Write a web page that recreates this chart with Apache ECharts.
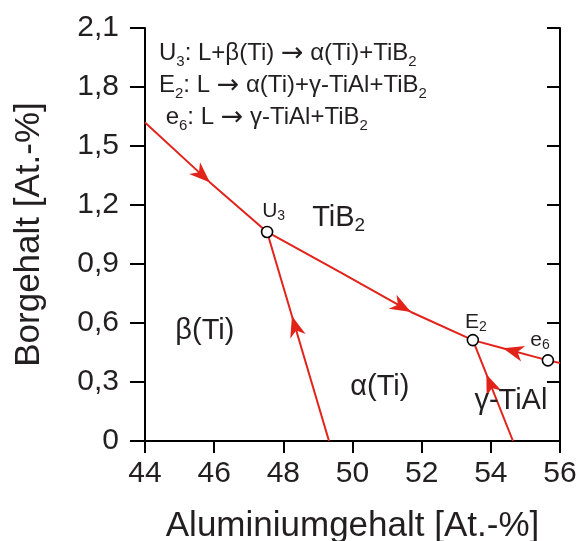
<!DOCTYPE html>
<html>
<head>
<meta charset="utf-8">
<script src="https://cdn.jsdelivr.net/npm/echarts@6/dist/echarts.min.js"></script>
<style>
  html, body { margin: 0; padding: 0; background: #fff; }
  #phase { width: 580px; height: 541px; }
</style>
</head>
<body>
<div id="phase"></div>
<script>
const red = '#e2231a'
const ink = '#231f20'

// Al-Gehalt / B-Gehalt entlang der Rinne e6 - E2 - U3
const liqX = [44, 45.88, 47.53, 49.64, 51.69, 53.48, 54.35, 55.65, 56]
const liqY = [1.62, 1.315, 1.063, 0.859, 0.656, 0.513, 0.472, 0.41, 0.397]
// Rinnen von unten nach U3 und E2
const u3LineX = [49.32, 47.53]
const u3LineY = [0, 1.063]
const e2LineX = [54.64, 53.48]
const e2LineY = [0, 0.513]

// invariante Punkte
const pointNames = ['U3', 'E2', 'e6']
const pointX = [47.53, 53.48, 55.65]
const pointY = [1.063, 0.513, 0.41]

// Pfeile: Spitze und ein Punkt dahinter
const arrowTipX = [45.88, 51.69, 54.35, 48.25, 53.87]
const arrowTipY = [1.315, 0.656, 0.472, 0.635, 0.34]
const arrowTailX = [44, 49.64, 55.65, 49.32, 54.64]
const arrowTailY = [1.62, 0.859, 0.41, 0, 0]

// Beschriftungen
const labelTexts = ['{t|TiB}{s|2}', '{t|β(Ti)}', '{t|α(Ti)}', '{t|γ-TiAl}', '{p|U}{ps|3}', '{p|E}{ps|2}', '{p|e}{ps|6}']
const labelX = [49.6, 45.73, 50.79, 54.58, 47.72, 53.57, 55.42]
const labelY = [1.134, 0.559, 0.275, 0.203, 1.17, 0.605, 0.513]

const yTickLabels = ['0', '0,3', '0,6', '0,9', '1,2', '1,5', '1,8', '2,1']
const legendLines = [
  '{a|U}{b|3}{a|: L+β(Ti) }{r|→}{a| α(Ti)+TiB}{b|2}',
  '{a|E}{b|2}{a|: L }{r|→}{a| α(Ti)+γ-TiAl+TiB}{b|2}',
  '{a| e}{b|6}{a|: L }{r|→}{a| γ-TiAl+TiB}{b|2}'
]

const zip = (xs, ys) => xs.map((x, i) => [x, ys[i]])

const axisBase = {
  type: 'value',
  axisLine: { show: true, lineStyle: { color: '#000', width: 2 } },
  axisTick: { show: true, lineStyle: { color: '#000', width: 2 } },
  splitLine: { show: false }
}

const options = {
  textStyle: { fontFamily: 'Liberation Sans, Arial, sans-serif' },
  animation: false,
  grid: { left: 145, right: 20, top: 28, bottom: 100, outerBoundsMode: 'none' },
  xAxis: [
    {
      ...axisBase,
      min: 44,
      max: 56,
      interval: 2,
      position: 'bottom',
      axisTick: { ...axisBase.axisTick, length: 12 },
      axisLabel: { color: ink, fontSize: 30, margin: 18 },
      name: 'Aluminiumgehalt [At.-%]',
      nameLocation: 'middle',
      nameGap: 68,
      nameTextStyle: { color: ink, fontSize: 35 }
    },
    {
      ...axisBase,
      min: 44,
      max: 56,
      interval: 2,
      position: 'top',
      axisTick: { ...axisBase.axisTick, inside: true, length: 12 },
      axisLabel: { show: false }
    }
  ],
  yAxis: [
    {
      ...axisBase,
      min: 0,
      max: 2.1,
      interval: 0.3,
      position: 'left',
      axisTick: { ...axisBase.axisTick, length: 15 },
      axisLabel: {
        color: ink,
        fontSize: 30,
        margin: 26,
        formatter: (v) => yTickLabels[Math.round(v / 0.3)]
      },
      name: 'Borgehalt [At.-%]',
      nameLocation: 'middle',
      nameGap: 98,
      nameTextStyle: { color: ink, fontSize: 35 }
    },
    {
      ...axisBase,
      min: 0,
      max: 2.1,
      interval: 0.3,
      position: 'right',
      axisTick: { ...axisBase.axisTick, inside: true, length: 13 },
      axisLabel: { show: false }
    }
  ],
  graphic: [
    {
      type: 'text',
      left: 159,
      top: 40,
      style: {
        text: legendLines.join('\n'),
        rich: {
          a: { fontSize: 24, lineHeight: 32, fill: ink, fontFamily: 'Liberation Sans' },
          r: { fontSize: 27, lineHeight: 32, fill: ink, fontFamily: 'DejaVu Sans' },
          b: { fontSize: 15, lineHeight: 26, fill: ink, verticalAlign: 'bottom', fontFamily: 'Liberation Sans' }
        }
      }
    }
  ],
  series: [
    {
      type: 'line',
      data: zip(liqX, liqY),
      symbol: 'none',
      lineStyle: { color: red, width: 2 },
      z: 2
    },
    {
      type: 'line',
      data: zip(u3LineX, u3LineY),
      symbol: 'none',
      lineStyle: { color: red, width: 2 },
      z: 2
    },
    {
      type: 'line',
      data: zip(e2LineX, e2LineY),
      symbol: 'none',
      lineStyle: { color: red, width: 2 },
      z: 2
    },
    {
      // Pfeilspitzen
      type: 'custom',
      data: arrowTipX.map((x, i) => [x, arrowTipY[i], arrowTailX[i], arrowTailY[i]]),
      encode: { x: 0, y: 1 },
      z: 3,
      renderItem: (params, api) => {
        const tip = api.coord([api.value(0), api.value(1)])
        const tail = api.coord([api.value(2), api.value(3)])
        const ang = Math.atan2(tip[1] - tail[1], tip[0] - tail[0])
        const c = Math.cos(ang)
        const s = Math.sin(ang)
        const pts = [[0, 0], [-21, -8], [-15, 0], [-21, 8]].map((p) => [
          tip[0] + p[0] * c - p[1] * s,
          tip[1] + p[0] * s + p[1] * c
        ])
        return { type: 'polygon', shape: { points: pts }, style: { fill: red } }
      }
    },
    {
      type: 'scatter',
      data: zip(pointX, pointY),
      symbol: 'circle',
      symbolSize: 11,
      itemStyle: { color: '#fff', borderColor: '#000', borderWidth: 1.6, opacity: 1 },
      z: 4
    },
    {
      type: 'scatter',
      data: labelX.map((x, i) => ({ value: [x, labelY[i]], name: labelTexts[i] })),
      symbolSize: 0,
      itemStyle: { opacity: 1 },
      z: 5,
      label: {
        show: true,
        position: 'inside',
        color: ink,
        textBorderWidth: 0,
        formatter: (p) => p.name,
        rich: {
          t: { fontSize: 29, color: ink, fontFamily: 'Liberation Sans' },
          s: { fontSize: 19, color: ink, verticalAlign: 'bottom', lineHeight: 34, fontFamily: 'Liberation Sans' },
          p: { fontSize: 21, color: ink, fontFamily: 'Liberation Sans' },
          ps: { fontSize: 14, color: ink, verticalAlign: 'bottom', lineHeight: 24, fontFamily: 'Liberation Sans' }
        }
      }
    }
  ]
}

const myChart = echarts.init(document.getElementById('phase'))
myChart.setOption(options)
</script>
</body>
</html>
